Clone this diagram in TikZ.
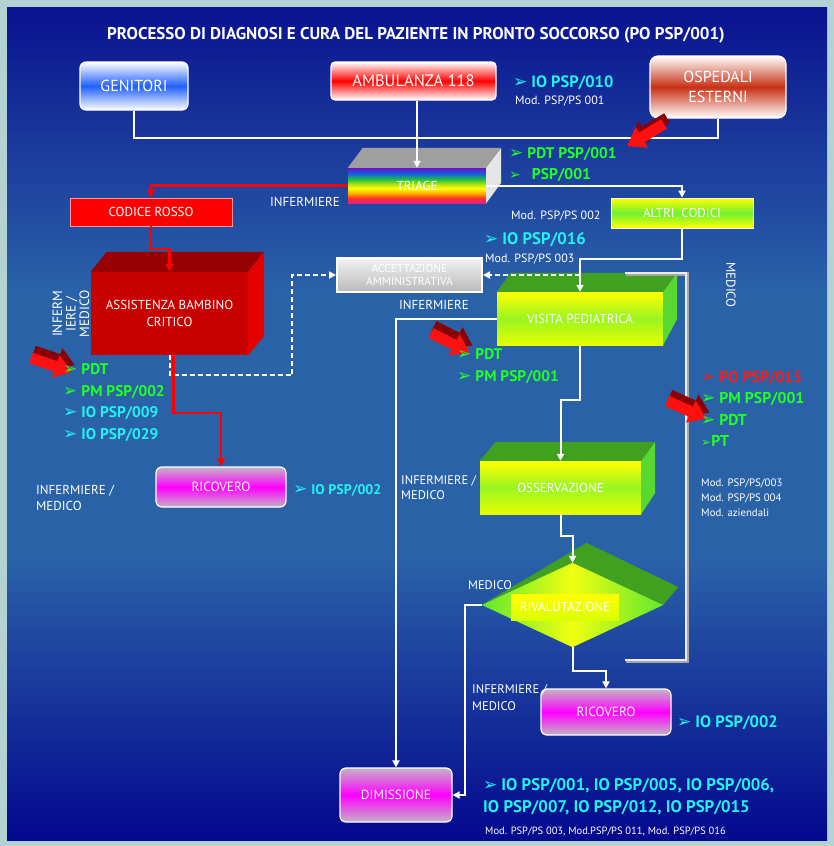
\documentclass[tikz,border=0pt]{standalone}
\usepackage{fontspec}
\setmainfont{PT Sans}
\newfontfamily\djv{DejaVu Sans}
\usetikzlibrary{arrows.meta,shapes.geometric,calc}
\newcommand{\bul}{{\djv\fontsize{17}{17}\selectfont\char"27A2}\hspace{4pt}}
\definecolor{bordc}{HTML}{B4D2D2}
\definecolor{bgT}{HTML}{0A1290}
\definecolor{bgM}{HTML}{2A62A8}
\definecolor{bgB}{HTML}{04088E}
\definecolor{rbA}{HTML}{E0208C}
\definecolor{rbB}{HTML}{FF3020}
\definecolor{rbC}{HTML}{FFB000}
\definecolor{rbD}{HTML}{FFFF00}
\definecolor{rbE}{HTML}{B0E010}
\definecolor{rbF}{HTML}{20C040}
\definecolor{rbG}{HTML}{1060E0}
\definecolor{rbH}{HTML}{7010C8}
\definecolor{cgreen}{HTML}{22FF22}
\definecolor{ccyan}{HTML}{22F2F2}
\definecolor{cred}{HTML}{FF1A1A}
\definecolor{fred}{HTML}{FF1010}
\definecolor{dkred}{HTML}{8A0000}
\definecolor{abcfront}{HTML}{C80000}
\definecolor{abctop}{HTML}{960000}
\definecolor{abcside}{HTML}{E40000}
\definecolor{gblue}{HTML}{2060FF}
\definecolor{ored}{HTML}{C83014}
\definecolor{dgreen}{HTML}{40A020}
\definecolor{lgreen}{HTML}{58D830}
\definecolor{mgreen}{HTML}{70F030}
\definecolor{dmgreen}{HTML}{60E830}
\definecolor{dyel}{HTML}{F0FF10}
\definecolor{magt}{HTML}{FF00FF}
\definecolor{pgray}{HTML}{C4B4C4}
\pgfdeclareverticalshading{bgsh}{100bp}{color(0bp)=(bgB); color(25bp)=(bgB); color(42bp)=(bgM); color(58bp)=(bgM); color(75bp)=(bgT); color(100bp)=(bgT)}
\pgfdeclareverticalshading{rainbow}{100bp}{color(0bp)=(rbA); color(25bp)=(rbA); color(32bp)=(rbB); color(39bp)=(rbC); color(46bp)=(rbD); color(52bp)=(rbE); color(59bp)=(rbF); color(67bp)=(rbG); color(75bp)=(rbH); color(100bp)=(rbH)}
\newcommand{\fs}[1]{\fontsize{#1}{#1}\selectfont}
\begin{document}
\begin{tikzpicture}[x=1pt,y=-1pt,
  lab/.style={text=white, font=\fontsize{13}{16}\selectfont, inner sep=1pt},
  mod/.style={text=white, font=\fontsize{12}{15}\selectfont, inner sep=1pt},
  lst/.style={font=\bfseries\fontsize{15.4}{21.7}\selectfont, inner sep=1pt, anchor=west, align=left},
  rbox/.style={draw=white, line width=1.2pt, rounded corners=6pt, text=white, inner sep=0pt, align=center},
  fbox/.style={inner sep=0pt, text=white, font=\fontsize{13}{15}\selectfont, align=center},
  wl/.style={draw=white, line width=2pt},
  wa/.style={wl, -{Triangle[width=7pt,length=7pt]}},
  ra/.style={draw=red, line width=2.5pt, -{Triangle[width=8pt,length=8pt]}},
  da/.style={draw=white, line width=2pt, dash pattern=on 5pt off 3pt, -{Triangle[width=7pt,length=7pt]}},
  pics/fat/.style={code={\fill[#1] (0,-5.5) -- (26,-5.5) -- (26,-12) -- (43,0) -- (26,12) -- (26,5.5) -- (0,5.5) -- cycle;}}
]
\useasboundingbox (0,0) rectangle (834,846);
\fill[bordc] (0,0) rectangle (834,846);
\shade[shading=bgsh] (7,7) rectangle (827,840);

% title
\node[text=white, font=\bfseries\fontsize{17}{19}\selectfont] (title) at (416,35) {PROCESSO DI DIAGNOSI E CURA DEL PAZIENTE IN PRONTO SOCCORSO (PO PSP/001)};

% top boxes
\node[rbox, top color=white, bottom color=white, middle color=gblue, minimum width=108pt, minimum height=48pt, font=\fontsize{16}{18}\selectfont] (gen) at (134,86) {GENITORI};
\node[rbox, rounded corners=4pt, top color=white, bottom color=white, middle color=red, minimum width=165pt, minimum height=38pt, font=\fontsize{16.5}{18}\selectfont] (amb) at (413.5,81) {AMBULANZA 118};
\node[rbox, rounded corners=8pt, top color=white, bottom color=white, middle color=ored, minimum width=136pt, minimum height=62pt, font=\fontsize{16}{20}\selectfont] (osp) at (718,87) {OSPEDALI\\ESTERNI};

% triage
\node[fbox, shading=rainbow, minimum width=138pt, minimum height=35pt] (tri) at (417,185.5) {TRIAGE};
\fill[gray!75] (tri.north west) -- ++(15,-20) -- ++(138,0) -- (tri.north east) -- cycle;
\fill[gray!20] (tri.north east) -- ++(15,-20) -- ++(0,35) -- (tri.south east) -- cycle;

% codice rosso / altri codici
\node[fbox, fill=red, draw=red!40, line width=0.8pt, minimum width=162pt, minimum height=28pt] (cod) at (151,212) {CODICE ROSSO};
\node[fbox, draw=white!85!yellow, line width=0.8pt, top color=yellow, bottom color=yellow, middle color=mgreen, minimum width=142pt, minimum height=30pt] (alt) at (682,213) {ALTRI\ \ CODICI};

% accettazione
\node[fbox, draw=white, line width=2pt, top color=gray!10, bottom color=gray!55, minimum width=145pt, minimum height=34pt, font=\fontsize{11.5}{13}\selectfont] (acc) at (409.5,275) {ACCETTAZIONE\\AMMINISTRATIVA};

% assistenza bambino critico
\node[fbox, fill=abcfront, minimum width=157pt, minimum height=83pt, font=\fontsize{13}{17}\selectfont] (abc) at (169.5,313.5) {ASSISTENZA BAMBINO\\CRITICO};
\fill[abctop] (abc.north west) -- ++(16,-20) -- ++(157,0) -- (abc.north east) -- cycle;
\fill[abcside] (abc.north east) -- ++(16,-20) -- ++(0,84) -- (abc.south east) -- cycle;

% visita
\node[fbox, top color=yellow, bottom color=yellow!90!green, middle color=mgreen!70!yellow, minimum width=166pt, minimum height=53pt] (vis) at (580,318.5) {VISITA PEDIATRICA};
\fill[dgreen] (vis.north west) -- ++(14,-19) -- ++(166,0) -- (vis.north east) -- cycle;
\fill[lgreen] (vis.north east) -- ++(14,-19) -- ++(0,46) -- (vis.south east) -- cycle;

% osservazione
\node[fbox, top color=yellow, bottom color=yellow!90!green, middle color=mgreen!70!yellow, minimum width=161pt, minimum height=53pt] (oss) at (560.5,487.5) {OSSERVAZIONE};
\fill[dgreen] (oss.north west) -- ++(16,-19) -- ++(159,0) -- (oss.north east) -- cycle;
\fill[lgreen] (oss.north east) -- ++(14,-19) -- ++(0,51) -- (oss.south east) -- cycle;

% rivalutazione
\node[diamond, aspect=2.155, inner sep=0pt, minimum width=181pt, minimum height=84pt] (riv) at (572.5,605) {};
\fill[dgreen] (riv.west) -- ($(riv.north)+(14,-20)$) -- ($(riv.east)+(15,-18)$) -- (riv.east) -- (riv.north) -- cycle;
\shade[left color=dmgreen, right color=dmgreen, middle color=dyel] (riv.north) -- (riv.east) -- (riv.south) -- (riv.west) -- cycle;
\node[fbox, top color=yellow, bottom color=yellow!85!green, minimum width=108pt, minimum height=26pt] (rivl) at (565,607) {RIVALUTAZIONE};

% ricovero / dimissione
\node[rbox, top color=pgray, bottom color=pgray, middle color=magt, minimum width=130pt, minimum height=40pt, font=\fontsize{13.3}{15}\selectfont] (ricl) at (221,487) {RICOVERO};
\node[rbox, top color=pgray, bottom color=pgray, middle color=magt, minimum width=130pt, minimum height=46pt, font=\fontsize{13.3}{15}\selectfont] (ricr) at (606,712) {RICOVERO};
\node[rbox, top color=pgray, bottom color=pgray, middle color=magt, minimum width=112pt, minimum height=54pt, font=\fontsize{13.3}{15}\selectfont] (dim) at (396,795) {DIMISSIONE};

% MEDICO bracket
\coordinate (mb1) at (625,273);
\coordinate (mb2) at (686,273);
\coordinate (mb3) at (686,660);
\coordinate (mb4) at (625,660);
\draw[draw=gray!70, line width=3.5pt] ([xshift=1pt,yshift=-1pt]mb1) -- ([xshift=1pt,yshift=-1pt]mb2) -- ([xshift=1pt,yshift=-1pt]mb3) -- ([xshift=1pt,yshift=-1pt]mb4);
\draw[draw=gray!15, line width=2pt] (mb1) -- (mb2) -- (mb3) -- (mb4);

% connectors
\draw[wl] (gen.south) -- (gen.south |- 0,138) -- (osp.south |- 0,138) -- (osp.south);
\draw[wa] (tri.north |- amb.south) -- (tri.north);
\draw[ra] (tri.west) -| (cod.north);
\draw[ra] (cod.south) -- (cod.south |- 0,249) -| (abc.north);
\draw[wa] (tri.east) -| (alt.north);
\draw[wa] (alt.south) -- (alt.south |- 0,259) -| (vis.north);
\draw[da] (vis.north |- acc.east) -- (acc.east);
\draw[da] (abc.south) -- ++(0,20) -| ([xshift=-44pt]acc.west) -- (acc.west);
\draw[ra] ([xshift=4pt]abc.south) -- ++(0,58) -| (ricl.north);
\draw[wa] (vis.west) -| (dim.north);
\draw[wa] (vis.south) -- ++(0,55) -| (oss.north);
\draw[wa] (oss.south) -- ++(0,22) -| (riv.north);
\draw[wa] (riv.west) -- ++(-17,0) |- (dim.east);
\draw[wa] (riv.south) -- ++(0,24) -| (ricr.north);

% fat red arrows
\pic[rotate=-19] at (34,351) {fat=dkred};
\pic[rotate=-19] at (31,358) {fat=fred};
\pic[rotate=-27] at (434,326) {fat=dkred};
\pic[rotate=-27] at (431,333) {fat=fred};
\pic[rotate=-24] at (670,395) {fat=dkred};
\pic[rotate=-24] at (667,401) {fat=fred};
\pic[rotate=-149] at (667,118) {fat=dkred};
\pic[rotate=-149] at (664,124) {fat=fred};

% texts
\node[lst, text=ccyan, font=\bfseries\fs{16.4}] (t010) at (512,83) {\bul IO PSP/010};
\node[mod, anchor=west] (m001) at (514,101) {Mod. PSP/PS 001};
\node[lst, text=cgreen] (tpdt) at (508,154) {\bul PDT PSP/001};
\node[lst, text=cgreen, font=\bfseries\fs{15.6}] (tpsp) at (508,175) {{\djv\fontsize{14}{14}\selectfont\char"27A2}\hspace{11pt}PSP/001};
\node[lab] (inf1) at (305,202) {INFERMIERE};
\node[mod, anchor=west] (m002) at (510,216) {Mod. PSP/PS 002};
\node[lst, text=ccyan, font=\bfseries\fs{16.7}] (t016) at (483,240) {\bul IO PSP/016};
\node[mod, anchor=west] (m003) at (484,259) {Mod. PSP/PS 003};
\node[lab] (inf2) at (434,305) {INFERMIERE};
\node[lst, text=cgreen] (lvis) at (456,366) {\bul PDT\\\bul PM PSP/001};
\node[lst] (lleft) at (62,402.5) {\textcolor{cgreen}{\bul PDT}\\\textcolor{cgreen}{\bul PM PSP/002}\\\textcolor{ccyan}{\bul IO PSP/009}\\\textcolor{ccyan}{\bul IO PSP/029}};
\node[lab, rotate=90, align=center, font=\fontsize{13.5}{13.5}\selectfont] (rinf) at (71,314) {INFERM\\IERE /\\MEDICO};
\node[lab, anchor=west, align=left] (im1) at (35,498) {INFERMIERE /\\MEDICO};
\node[lst, text=ccyan, font=\bfseries\fs{14}] (t002a) at (292,490) {\bul IO PSP/002};
\node[lst, font=\bfseries\fontsize{15.7}{21.3}\selectfont] (lright) at (700,409) {\textcolor{cred}{\bul PO PSP/015}\\\textcolor{cgreen}{\bul PM PSP/001}\\\textcolor{cgreen}{\bul PDT}\\\textcolor{cgreen}{{\djv\fontsize{12}{12}\selectfont\char"27A2}PT}};
\node[mod, anchor=west, align=left, font=\fontsize{10.8}{15}\selectfont] (mright) at (700,498) {Mod. PSP/PS/003\\Mod. PSP/PS 004\\Mod. aziendali};
\node[lab, rotate=-90] (med1) at (731,285) {MEDICO};
\node[lab, anchor=west, align=left, font=\fontsize{12.5}{15}\selectfont] (im2) at (400,488) {INFERMIERE /\\MEDICO};
\node[lab, font=\fs{12.5}] (med2) at (490,585) {MEDICO};
\node[lab, anchor=west, align=left, font=\fontsize{12.5}{17}\selectfont] (im3) at (471,698) {INFERMIERE /\\MEDICO};
\node[lst, text=ccyan, font=\bfseries\fs{16.5}] (t002b) at (676,723) {\bul IO PSP/002};
\node[lst, text=ccyan, font=\bfseries\fontsize{16.8}{22}\selectfont] (tbot) at (482,797) {\bul IO PSP/001, IO PSP/005, IO PSP/006,\\IO PSP/007, IO PSP/012, IO PSP/015};
\node[mod, anchor=west, font=\fontsize{10.5}{11}\selectfont] (mbot) at (484,832) {Mod. PSP/PS 003, Mod.PSP/PS 011, Mod. PSP/PS 016};
\end{tikzpicture}
\end{document}
